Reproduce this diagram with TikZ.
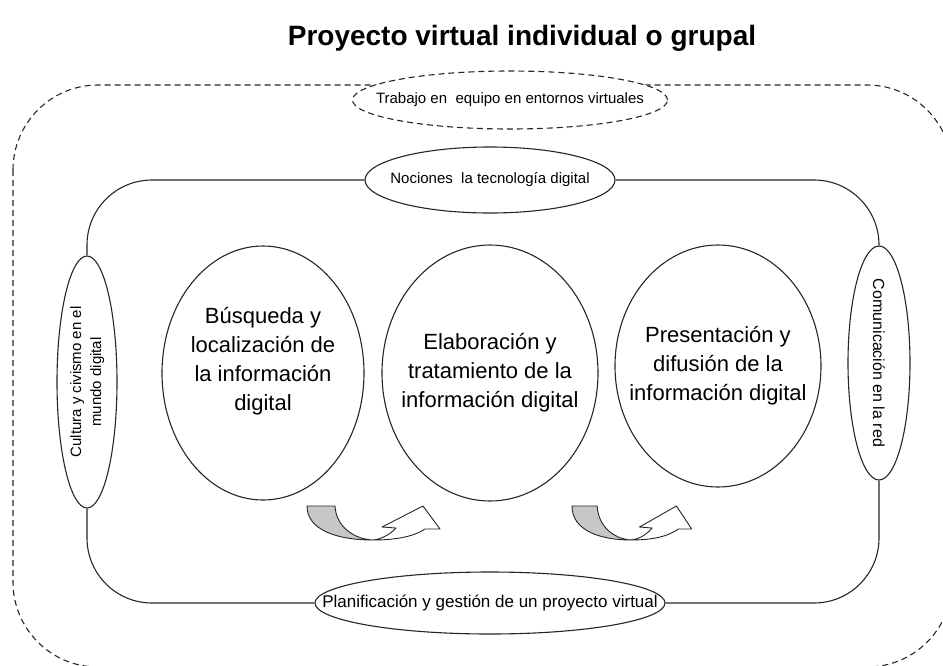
\documentclass[tikz,border=0pt]{standalone}
\usepackage{fontspec}
\setmainfont{Liberation Sans}
\usepackage{graphicx}
\usepackage{tikz}
\usetikzlibrary{shapes.geometric,positioning}

\begin{document}
\begin{tikzpicture}[x=1pt,y=-1pt]
\tikzstyle{oval}=[ellipse,draw=black!85,fill=white,line width=1.1pt,inner sep=0pt]
\tikzstyle{bigoval}=[oval,font=\fontsize{22}{29}\selectfont]
\tikzstyle{smalloval}=[oval,font=\fontsize{15}{20}\selectfont]
\tikzstyle{rayado}=[dash pattern=on 6pt off 4pt]
\tikzstyle{marco}=[draw=black!85,line width=1.1pt,rounded corners=65pt]
\tikzstyle{flecha}=[draw=black!85,line width=0.9pt,line join=round]

\useasboundingbox (0,0) rectangle (943,665);

\node[font=\bfseries\fontsize{28}{32}\selectfont] (titulo) at (522,38) {Proyecto virtual individual o grupal};

% marco exterior
\draw[black!85,line width=1.1pt,rayado,rounded corners=85pt] (13,85) rectangle (952,667);

% ovalos del marco
\node[smalloval,rayado,minimum width=315pt,minimum height=58pt] (trabajo) at (510,100)
  {\makebox[0pt]{Trabajo en~ equipo en entornos virtuales}};
\node[smalloval,minimum width=250pt,minimum height=66pt] (nociones) at (490,180)
  {\makebox[0pt]{Nociones~ la tecnología digital}};
\node[oval,font=\fontsize{17}{20}\selectfont,minimum width=350pt,minimum height=62pt] (planif) at (490,603)
  {\makebox[0pt]{Planificación y gestión de un proyecto virtual}};
\node[smalloval,minimum width=60pt,minimum height=252pt] (cultura) at (87,382)
  {\rotatebox{90}{\makebox[0pt]{\begin{tabular}{@{}c@{}}Cultura y civismo en el\\ mundo digital\end{tabular}}}};
\node[smalloval,font=\fontsize{16}{20}\selectfont,minimum width=62pt,minimum height=234pt] (comunic) at (879,363)
  {\rotatebox{-90}{\makebox[0pt]{Comunicación en la red}}};

\draw[marco] (nociones.west) -| (cultura.north);
\draw[marco] (cultura.south) |- (planif.west);
\draw[marco] (planif.east) -| (comunic.south);
\draw[marco] (comunic.north) |- (nociones.east);

% competencias
\node[bigoval,text depth=76pt,minimum width=202pt,minimum height=254pt] (busqueda) at (263,373)
  {\makebox[0pt]{\begin{tabular}{@{}c@{}}Búsqueda y\\ localización de\\ la información\\ digital\end{tabular}}};
\node[bigoval,minimum width=216pt,minimum height=256pt] (elabora) at (490,373)
  {\makebox[0pt]{\begin{tabular}{@{}c@{}}Elaboración y\\ tratamiento de la\\ información digital\end{tabular}}};
\node[bigoval,minimum width=206pt,minimum height=242pt] (presenta) at (718,366)
  {\makebox[0pt]{\begin{tabular}{@{}c@{}}Presentación y\\ difusión de la\\ información digital\end{tabular}}};

% flechas curvas
\begin{scope}[shift={(307,506)}]
\draw[flecha,fill=black!22] (0,0) -- (28,0) .. controls (29,20) and (46,33) .. (66,34)
  .. controls (30,34) and (0,24) .. (0,0) -- cycle;
\draw[flecha,fill=white] (66,34) .. controls (90,34) and (108,30) .. (118,23) -- (133,23) -- (116,0)
  -- (75,21) -- (89,22) -- (86,25) .. controls (80,30) and (74,33) .. (66,34) -- cycle;
\end{scope}
\begin{scope}[shift={(572,506)},xscale=0.9]
\draw[flecha,fill=black!22] (0,0) -- (28,0) .. controls (29,20) and (46,33) .. (66,34)
  .. controls (30,34) and (0,24) .. (0,0) -- cycle;
\draw[flecha,fill=white] (66,34) .. controls (90,34) and (108,30) .. (118,23) -- (133,23) -- (116,0)
  -- (75,21) -- (89,22) -- (86,25) .. controls (80,30) and (74,33) .. (66,34) -- cycle;
\end{scope}
\end{tikzpicture}
\end{document}
